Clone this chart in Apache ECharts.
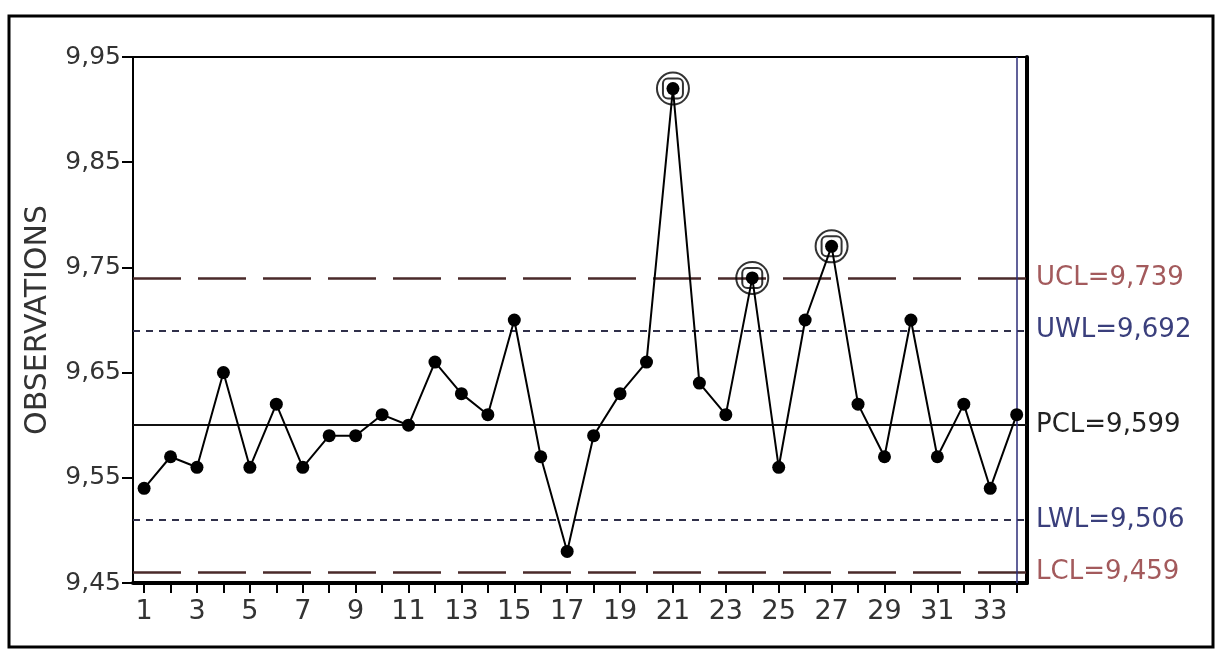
<!DOCTYPE html>
<html>
<head>
<meta charset="utf-8">
<script src="https://cdn.jsdelivr.net/npm/echarts@6/dist/echarts.min.js"></script>
<style>html,body{margin:0;padding:0;background:#fff;}#c{width:1216px;height:650px;}</style>
</head>
<body>
<div id="c"></div>
<script>
// ---- data ----
var samples = [1,2,3,4,5,6,7,8,9,10,11,12,13,14,15,16,17,18,19,20,21,22,23,24,25,26,27,28,29,30,31,32,33,34];
var observations = [9.54,9.57,9.56,9.65,9.56,9.62,9.56,9.59,9.59,9.61,9.60,9.66,9.63,9.61,9.70,9.57,9.48,9.59,9.63,9.66,9.92,9.64,9.61,9.74,9.56,9.70,9.77,9.62,9.57,9.70,9.57,9.62,9.54,9.61];
var flaggedSamples = [21, 24, 27];
var xLabelValues = [1,3,5,7,9,11,13,15,17,19,21,23,25,27,29,31,33];
var yTickValues = [9.45, 9.55, 9.65, 9.75, 9.85, 9.95];
var limitNames = ['UCL', 'UWL', 'PCL', 'LWL', 'LCL'];
var limitValues = [9.739, 9.692, 9.599, 9.506, 9.459];
var currentSample = 34;

// ---- styles ----
var FONT = 'DejaVu Sans';
var limitStyles = {
  UCL: {line: {color: '#4a2a2a', width: 2.5, type: [48, 17]}, text: '#a35a5c'},
  LCL: {line: {color: '#4a2a2a', width: 2.5, type: [48, 17]}, text: '#a35a5c'},
  UWL: {line: {color: '#30304a', width: 2, type: [7, 6]}, text: '#3a3f7c'},
  LWL: {line: {color: '#30304a', width: 2, type: [7, 6]}, text: '#3a3f7c'},
  PCL: {line: {color: '#111', width: 1.8, type: 'solid'}, text: '#222'}
};

var lineData = samples.map(function (s, i) { return [s, observations[i]]; });
var flaggedData = flaggedSamples.map(function (s) { return [s, observations[samples.indexOf(s)]]; });

var markLines = limitNames.map(function (n, i) {
  var st = limitStyles[n];
  return {
    yAxis: limitValues[i],
    lineStyle: {color: st.line.color, width: st.line.width, type: st.line.type},
    label: {
      show: true, position: 'end', distance: 9,
      formatter: n + '=' + limitValues[i].toFixed(3).replace('.', ','),
      color: st.text, fontFamily: FONT, fontSize: 26
    }
  };
});
markLines.push({
  xAxis: currentSample,
  lineStyle: {color: '#2c2c78', width: 1.5, type: 'solid'},
  label: {show: false}
});

var chart = echarts.init(document.getElementById('c'), null, {renderer: 'canvas'});
chart.setOption({
  backgroundColor: '#fff',
  animation: false,
  graphic: [{
    type: 'rect', shape: {x: 9, y: 16, width: 1204, height: 631},
    style: {fill: 'none', stroke: '#000', lineWidth: 3}, z: 0
  }],
  grid: {left: 133, right: 189, top: 57, bottom: 67, show: true, borderColor: '#000', borderWidth: 2, backgroundColor: 'transparent'},
  xAxis: {
    type: 'value', min: 0.58, max: 34.39,
    axisLine: {show: true, lineStyle: {color: '#000', width: 4}},
    axisTick: {show: true, length: 10, lineStyle: {color: '#000', width: 2}, customValues: samples},
    axisLabel: {
      customValues: xLabelValues, color: '#333', fontFamily: FONT, fontSize: 27, margin: 15,
      formatter: function (v) { return String(v); }
    },
    splitLine: {show: false}
  },
  yAxis: [{
    type: 'value', min: 9.45, max: 9.95,
    name: 'OBSERVATIONS', nameLocation: 'middle', nameGap: 80, nameRotate: 90,
    nameTextStyle: {color: '#333', fontFamily: FONT, fontSize: 30},
    axisLine: {show: true, lineStyle: {color: '#000', width: 2}},
    axisTick: {show: true, length: 11, lineStyle: {color: '#000', width: 2}, customValues: yTickValues},
    axisLabel: {
      customValues: yTickValues, color: '#333', fontFamily: FONT, fontSize: 25, margin: 12,
      formatter: function (v) { return v.toFixed(2).replace('.', ','); }
    },
    splitLine: {show: false}
  }, {
    type: 'value', min: 9.45, max: 9.95, position: 'right',
    axisLine: {show: true, lineStyle: {color: '#000', width: 4}},
    axisTick: {show: false}, axisLabel: {show: false}, splitLine: {show: false}
  }],
  series: [{
    type: 'line',
    data: lineData,
    symbol: 'circle', symbolSize: 13,
    itemStyle: {color: '#000'},
    lineStyle: {color: '#000', width: 2},
    z: 5,
    markLine: {silent: true, symbol: 'none', animation: false, data: markLines, z: 3}
  }, {
    type: 'scatter', data: flaggedData, symbol: 'circle', symbolSize: 32,
    itemStyle: {color: 'rgba(0,0,0,0)', borderColor: '#000', borderWidth: 2}, z: 6, silent: true
  }, {
    type: 'scatter', data: flaggedData, symbol: 'roundRect', symbolSize: 20,
    itemStyle: {color: 'rgba(0,0,0,0)', borderColor: '#000', borderWidth: 2}, z: 6, silent: true
  }]
});
</script>
</body>
</html>
